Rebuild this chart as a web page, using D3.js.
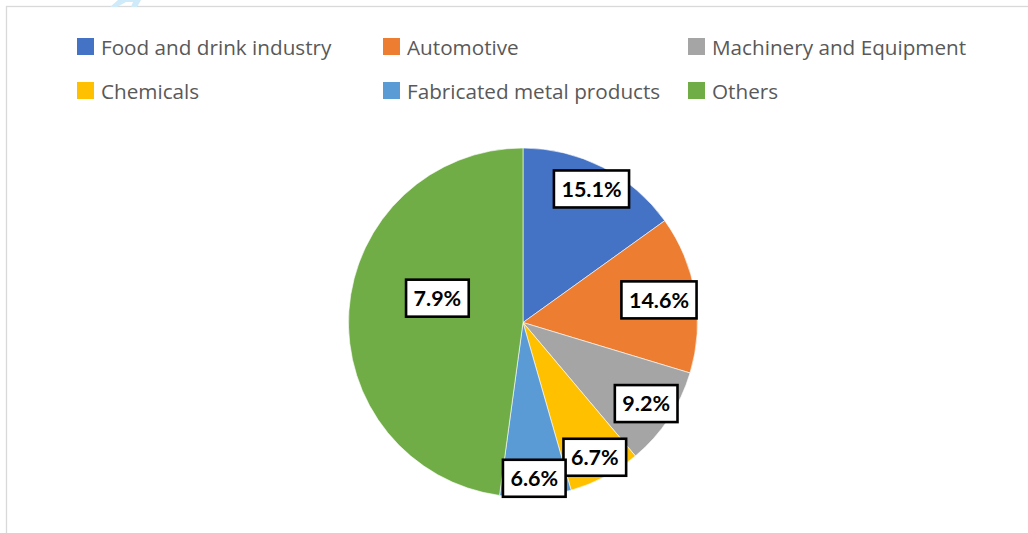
<!DOCTYPE html>
<html>
<head>
<meta charset="utf-8">
<script src="https://cdn.jsdelivr.net/npm/d3@7"></script>
<style>
  html, body { margin: 0; padding: 0; background: #ffffff; }
  svg { display: block; }
</style>
</head>
<body>
<svg id="chart" width="1028" height="533"></svg>
<script>
// Manufacturing sectors and their shares (%)
const categories = [
  "Food and drink industry",
  "Automotive",
  "Machinery and Equipment",
  "Chemicals",
  "Fabricated metal products",
  "Others"
];
const shares = [15.1, 14.6, 9.2, 6.7, 6.6, 47.9];
const shareLabels = ["15.1%", "14.6%", "9.2%", "6.7%", "6.6%", "7.9%"];
const sliceColors = ["#4472C4", "#ED7D31", "#A5A5A5", "#FFC000", "#5B9BD5", "#70AD47"];

const svg = d3.select("#chart");
const W = 1028, H = 533;

// chart area frame
svg.append("rect")
  .attr("x", 6.5).attr("y", 6.5)
  .attr("width", W + 20).attr("height", H + 20)
  .attr("fill", "none")
  .attr("stroke", "#d9d9d9")
  .attr("stroke-width", 1.3);

// small light-blue mark at the top edge of the page
svg.append("path")
  .attr("d", "M110,7 L118,0 L141,0 L137,7 L131,7 L133,2 L126,2 L117,7 Z")
  .attr("fill", "#cfeaf8");

// legend: three columns, two rows
const colX = [77, 383, 688];
const rowY = [38, 82];
const legend = svg.append("g").attr("class", "legend");
categories.forEach((name, i) => {
  const g = legend.append("g")
    .attr("transform", `translate(${colX[i % 3]},${rowY[Math.floor(i / 3)]})`);
  g.append("rect")
    .attr("width", 17).attr("height", 17)
    .attr("fill", sliceColors[i]);
  g.append("text")
    .attr("x", 24).attr("y", 16.5)
    .attr("font-family", "'Open Sans', 'Noto Sans', sans-serif")
    .attr("font-size", 20.7)
    .attr("fill", "#595959")
    .text(name);
});

// pie
const cx = 523, cy = 322.5, R = 174.5;
const pie = d3.pie().sort(null).value(d => d);
const arcs = pie(shares);
const arc = d3.arc().innerRadius(0).outerRadius(R);

const plot = svg.append("g").attr("transform", `translate(${cx},${cy})`);
plot.selectAll("path.slice")
  .data(arcs)
  .join("path")
  .attr("class", "slice")
  .attr("d", arc)
  .attr("fill", (d, i) => sliceColors[i])
  .attr("stroke", "#ffffff")
  .attr("stroke-width", 0.6);

// data labels: radial distance (fraction of R) and angular nudge (deg)
const labelRadius = [0.86, 0.79, 0.845, 0.875, 0.895, 0.51];
const labelNudge = [0, 0, 0, 0, 0, 12];

arcs.forEach((d, i) => {
  const a = (d.startAngle + d.endAngle) / 2 + labelNudge[i] * Math.PI / 180;
  const r = R * labelRadius[i];
  const x = r * Math.sin(a), y = -r * Math.cos(a);
  const g = plot.append("g").attr("transform", `translate(${x},${y})`);
  const box = g.append("rect").attr("fill", "#ffffff")
    .attr("stroke", "#000000").attr("stroke-width", 2.6);
  const t = g.append("text")
    .attr("text-anchor", "middle")
    .attr("dy", "0.36em")
    .attr("font-family", "Lato, 'Open Sans', sans-serif")
    .attr("font-weight", 700)
    .attr("font-size", 21.5)
    .attr("fill", "#000000")
    .text(shareLabels[i]);
  const bb = t.node().getBBox();
  const bw = bb.width + 15, bh = 37;
  box.attr("x", -bw / 2).attr("y", -bh / 2).attr("width", bw).attr("height", bh);
});
</script>
</body>
</html>
